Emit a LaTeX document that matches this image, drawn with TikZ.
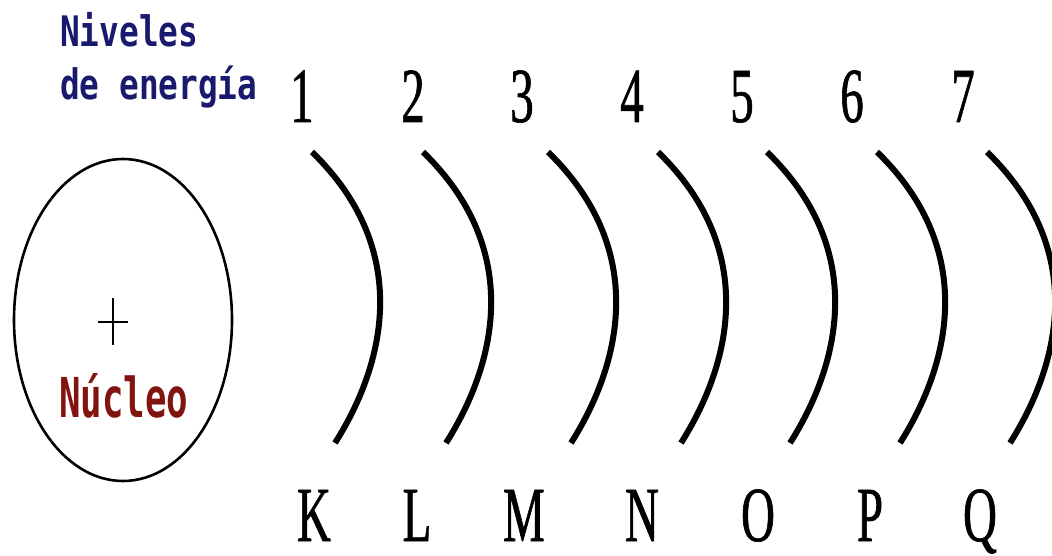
\documentclass[tikz,border=0pt]{standalone}
\usepackage{fontspec}
\usetikzlibrary{shapes.geometric}
\newfontfamily\condserif{Liberation Serif}[FakeStretch=0.6,FakeBold=0.8]
\newfontfamily\monoA{DejaVu Sans Mono}[FakeStretch=0.78]
\newfontfamily\monoB{DejaVu Sans Mono}[FakeStretch=0.65]
\definecolor{navytxt}{RGB}{25,25,110}
\definecolor{redtxt}{RGB}{130,20,15}
\begin{document}
\begin{tikzpicture}[x=1pt,y=1pt,
  lvl/.style={inner sep=0, anchor=base, text depth=0pt, font=\condserif\fontsize{78}{78}\selectfont},
  shell/.style={line width=6pt},
  title/.style={inner sep=0, anchor=base west, text=navytxt, font=\monoA\bfseries\fontsize{42}{42}\selectfont},
  nuctext/.style={inner sep=0, anchor=base west, text=redtxt, font=\monoB\bfseries\fontsize{55}{55}\selectfont}]
\useasboundingbox (0,0) rectangle (1052,-556);
% nucleus
\node[draw, ellipse, line width=2.6pt, minimum width=218pt, minimum height=322pt, inner sep=0] (nuc) at (123,-320) {};
\coordinate (plusc) at (113,-322);
\draw[line width=2pt] ([xshift=-15pt]plusc) -- ([xshift=15pt]plusc)
  ([yshift=24pt]plusc) -- ([yshift=-23pt]plusc);
\node[nuctext] (nucleo) at (59,-417) {Núcleo};
% title
\node[title] (tit1) at (60,-47) {Niveles};
\node[title] (tit2) at (60,-100) {de energía};
% shells
\foreach \s [count=\i] in {312,423,548,658,767,877,987} {
  \coordinate (t\i) at (\s,-152);
  \coordinate (b\i) at (\s+23,-443);
  \draw[shell] (t\i) .. controls ([shift={(96,-93)}]t\i) and ([shift={(55,87)}]b\i) .. (b\i);
}
% numbers
\foreach \d/\x in {1/302,2/413,3/522,4/632,5/742,6/852,7/963}
  \node[lvl] (n\d) at (\x,-122) {\d};
% letters
\foreach \l/\x in {K/314,L/417,M/524,N/642,O/758,P/870,Q/980}
  \node[lvl] (s\l) at (\x,-541) {\l};
\end{tikzpicture}
\end{document}
